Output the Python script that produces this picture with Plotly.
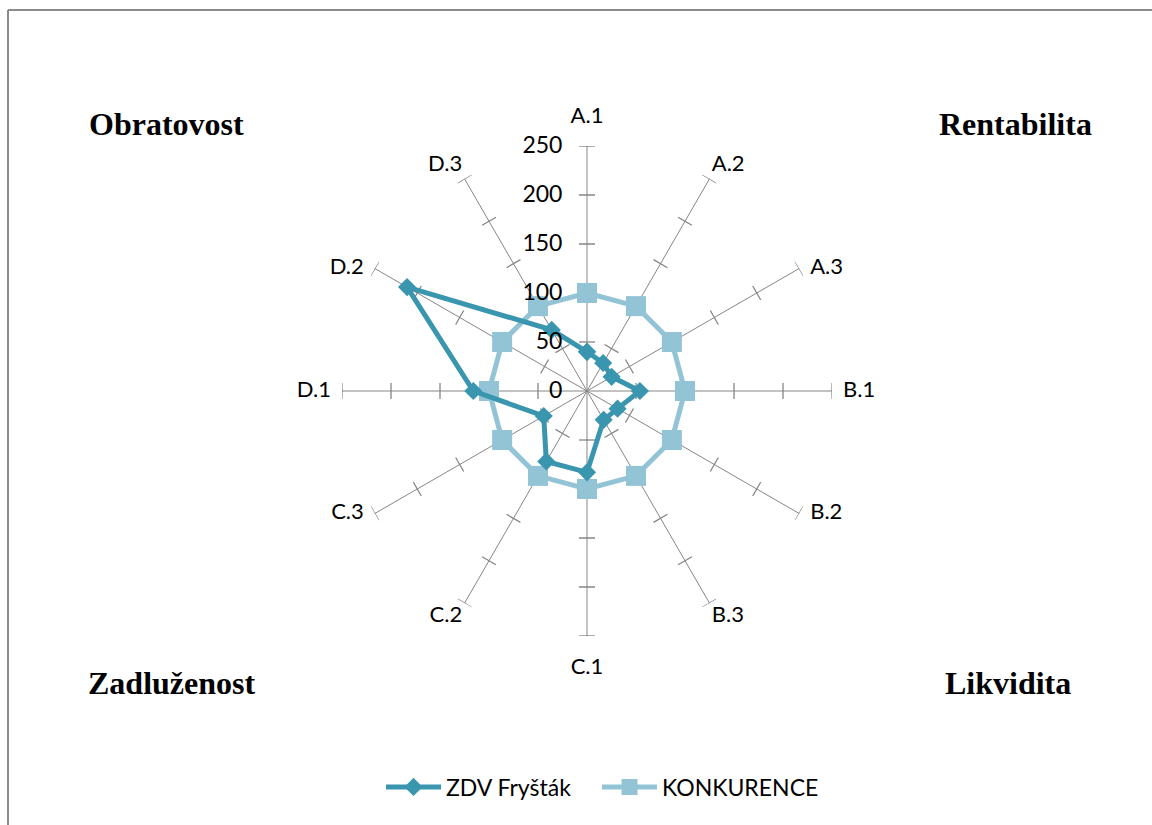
import math
import plotly.graph_objects as go

# Indicator axes of the radar chart
categories = ["A.1", "A.2", "A.3", "B.1", "B.2", "B.3",
              "C.1", "C.2", "C.3", "D.1", "D.2", "D.3"]
zdv_frystak = [40, 33, 29, 54, 36, 34, 83, 83, 51, 116, 212, 72]
konkurence = [100, 100, 100, 100, 100, 100, 100, 100, 100, 100, 100, 100]
radial_ticks = [0, 50, 100, 150, 200, 250]
corner_titles = ["Obratovost", "Rentabilita", "Zadluženost", "Likvidita"]

# where each axis label sits relative to the end of its spoke,
# and the size of the invisible anchor that sets its distance
label_side = ["top center", "top right", "middle right", "middle right",
              "middle right", "bottom right", "bottom center", "bottom left",
              "middle left", "middle left", "middle left", "top left"]
label_gap = [26, 2, 16, 16, 16, 2, 32, 2, 16, 16, 16, 2]

GRID = "#868686"
C_ZDV = "#3A96AE"
C_KON = "#93C4D6"
FONT = "Lato, 'Open Sans', sans-serif"

angles = [i * 360 / len(categories) for i in range(len(categories))]
r_max = radial_ticks[-1]

fig = go.Figure()

# Cross ticks on every spoke (perpendicular short segments)
half = 8.2  # half tick length in radial units
tr, tt = [], []
for a in angles:
    for r in radial_ticks[1:]:
        rr = math.hypot(r, half)
        da = math.degrees(math.atan2(half, r))
        tr += [rr, rr, None]
        tt += [a - da, a + da, None]
fig.add_trace(go.Scatterpolar(r=tr, theta=tt, mode="lines",
                              line=dict(color=GRID, width=1.3),
                              showlegend=False, hoverinfo="skip"))

# Axis names at the spoke ends
fig.add_trace(go.Scatterpolar(
    r=[r_max] * len(categories), theta=angles, mode="markers+text",
    marker=dict(size=label_gap, opacity=0),
    text=categories, textposition=label_side, cliponaxis=False,
    textfont=dict(size=22, family=FONT, color="#000000"),
    showlegend=False, hoverinfo="skip"))


def closed(v):
    return list(v) + [v[0]]


fig.add_trace(go.Scatterpolar(
    r=closed(konkurence), theta=closed(angles), name="KONKURENCE",
    mode="lines+markers", legend="legend2",
    line=dict(color=C_KON, width=5),
    marker=dict(symbol="square", size=20, color=C_KON),
))
fig.add_trace(go.Scatterpolar(
    r=closed(zdv_frystak), theta=closed(angles), name="ZDV Fryšták",
    mode="lines+markers", legend="legend",
    line=dict(color=C_ZDV, width=5),
    marker=dict(symbol="diamond", size=14, color=C_ZDV),
))

W, H = 1152, 825
cx, cy, R = 587, 391, 245

legend_style = dict(
    orientation="h", xanchor="left", y=(H - 787) / H, yanchor="middle",
    font=dict(size=23, family=FONT, color="#000000"),
    itemwidth=55, bgcolor="rgba(0,0,0,0)",
)

fig.update_layout(
    width=W, height=H,
    margin=dict(l=0, r=0, t=0, b=0),
    paper_bgcolor="white",
    plot_bgcolor="white",
    font=dict(family=FONT, color="#000000", size=22),
    polar=dict(
        domain=dict(x=[(cx - R) / W, (cx + R) / W],
                    y=[(H - cy - R) / H, (H - cy + R) / H]),
        bgcolor="rgba(0,0,0,0)",
        angularaxis=dict(
            type="linear", rotation=90, direction="clockwise",
            tickmode="array", tickvals=angles,
            showticklabels=False,
            showgrid=True, gridcolor=GRID, gridwidth=1.3,
            showline=False, ticks="",
        ),
        radialaxis=dict(
            range=[0, r_max], angle=90, side="counterclockwise",
            tickmode="array", tickvals=radial_ticks,
            ticktext=[str(v) for v in radial_ticks],
            showgrid=False, showline=False,
            ticks="outside", ticklen=16, tickcolor="rgba(0,0,0,0)",
            tickangle=90,
            tickfont=dict(size=23, family=FONT, color="#000000"),
        ),
    ),
    legend=dict(x=381 / W, **legend_style),
    legend2=dict(x=597 / W, **legend_style),
    shapes=[
        dict(type="line", xref="paper", yref="paper",
             x0=8 / W, x1=1.0, y0=1 - 10 / H, y1=1 - 10 / H,
             line=dict(color="#8C8C8C", width=2)),
        dict(type="line", xref="paper", yref="paper",
             x0=8 / W, x1=8 / W, y0=0.0, y1=1 - 10 / H,
             line=dict(color="#8C8C8C", width=2)),
    ],
)

title_pos = [(166, 124), (1015, 124), (171, 683), (1008, 683)]
for text, (x, y) in zip(corner_titles, title_pos):
    fig.add_annotation(
        x=x / W, y=1 - y / H, xref="paper", yref="paper",
        text=f"<b>{text}</b>", showarrow=False,
        xanchor="center", yanchor="middle",
        font=dict(family="'Liberation Serif', 'Times New Roman', serif",
                  size=32, color="#000000"),
    )

fig.write_html("out.html")
